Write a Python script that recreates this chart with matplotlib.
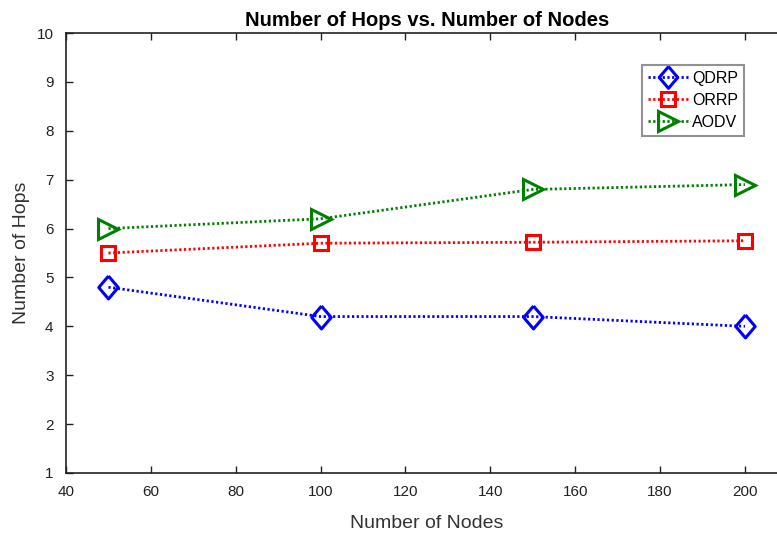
import matplotlib
matplotlib.use("Agg")
import matplotlib.pyplot as plt

nodes = [50, 100, 150, 200]
qdrp = [4.8, 4.2, 4.2, 4.0]
orrp = [5.5, 5.7, 5.72, 5.75]
aodv = [6.0, 6.2, 6.8, 6.9]
xticks = [40, 60, 80, 100, 120, 140, 160, 180, 200]
yticks = [1, 2, 3, 4, 5, 6, 7, 8, 9, 10]

plt.rcParams['font.family'] = ['Liberation Sans', 'DejaVu Sans']
fig = plt.figure(figsize=(7.77, 5.35), dpi=100)
ax = fig.add_axes([66/777, 62/535, 721.4/777, 440/535])

tall_diamond = [(0, 1), (0.85, 0), (0, -1), (-0.85, 0), (0, 1)]
dot = (0, (0.8, 0.9))
ax.plot(nodes, qdrp, color='#0000ff', ls=dot, lw=2.0, marker=tall_diamond, ms=16.5,
        mfc='none', mew=2.2, label='QDRP')
ax.plot(nodes, orrp, color='#ff0000', ls=dot, lw=2.0, marker='s', ms=10,
        mfc='none', mew=2.2, label='ORRP')
ax.plot(nodes, aodv, color='#008000', ls=dot, lw=2.0, marker='>', ms=15,
        mfc='none', mew=2.2, label='AODV')

ax.set_xlim(40, 210)
ax.set_ylim(1, 10)
ax.set_xticks(xticks)
ax.set_yticks(yticks)
ax.tick_params(axis='both', direction='in', length=5, labelsize=11, top=True, right=True,
               width=1, colors='#222222')
ax.tick_params(axis='x', pad=9)
ax.tick_params(axis='y', pad=9)
for s in ax.spines.values():
    s.set_linewidth(1.2)
    s.set_color('#222222')
ax.set_xlabel('Number of Nodes', fontsize=14, color='#333333', labelpad=11)
ax.set_ylabel('Number of Hops', fontsize=14, color='#333333', labelpad=5)
ax.set_title('Number of Hops vs. Number of Nodes', fontsize=14.5, fontweight='bold', pad=5)

leg = ax.legend(loc='upper left', bbox_to_anchor=((642-66)/721.4, (473-65)/440),
                fontsize=11.5, frameon=True, fancybox=False, handlelength=2.6,
                borderpad=0.35, labelspacing=0.45, handletextpad=0.2, borderaxespad=0,
                markerscale=0.95)
leg.get_frame().set_edgecolor('#777777')
leg.get_frame().set_linewidth(1.5)

fig.savefig('out.png', dpi=100)
